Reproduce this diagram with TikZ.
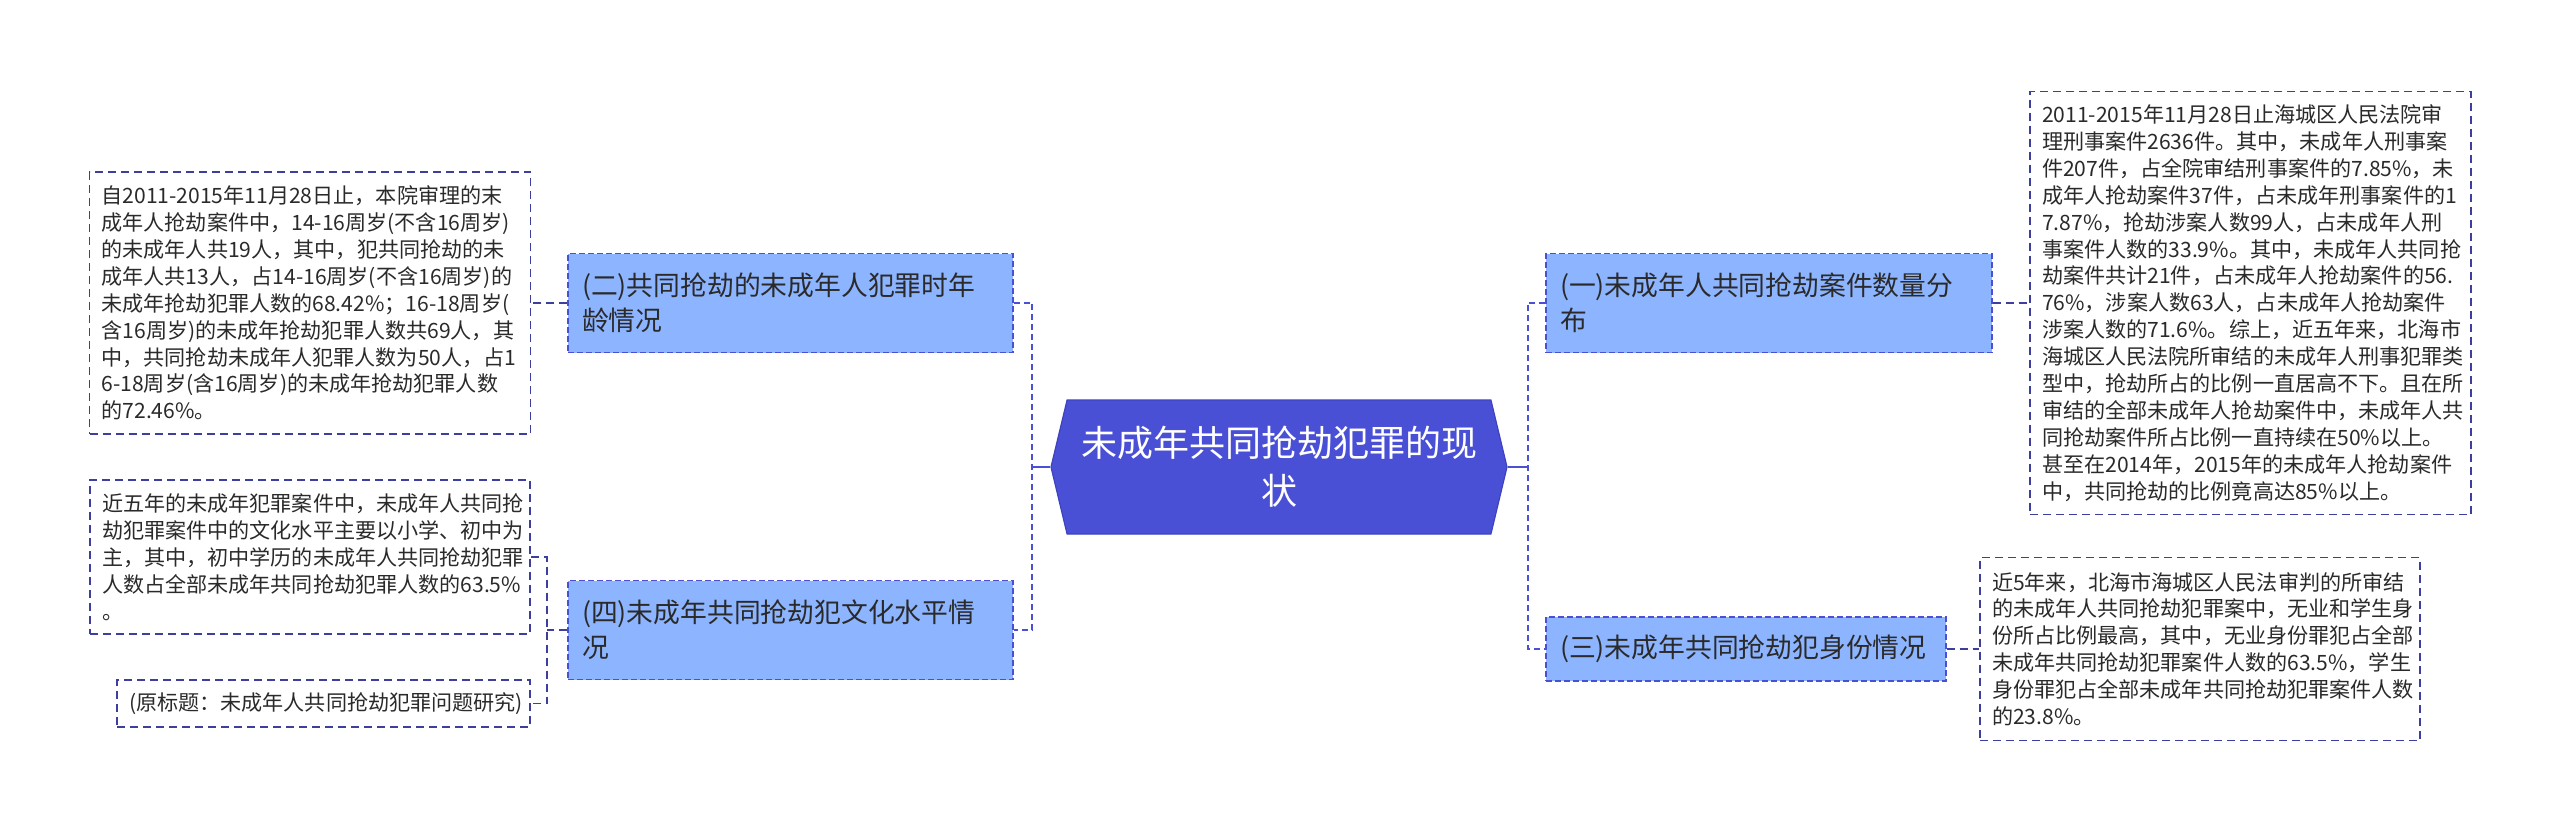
\documentclass[tikz,border=0pt]{standalone}
\usepackage{fontspec}
\setmainfont{Noto Sans CJK SC}
\usetikzlibrary{shapes.symbols}
\definecolor{hubblue}{HTML}{4A50D6}
\definecolor{hubedge}{HTML}{3D43BE}
\definecolor{midfill}{HTML}{8DB4FF}
\definecolor{leafedge}{HTML}{3D3F9C}
\definecolor{inkgray}{HTML}{2A2A2A}

\begin{document}
\begin{tikzpicture}[x=0.5pt, y=-0.5pt,
    hub/.style={shape=signal, signal to=west and east, signal pointer angle=153,
                fill=hubblue, draw=hubedge, line width=0.6pt, text=white,
                minimum width=228pt, minimum height=67pt, align=center,
                font=\fontsize{18pt}{24pt}\selectfont, inner sep=0pt},
    topic/.style={draw=hubblue, fill=midfill, dash pattern=on 3pt off 1.5pt,
                line width=0.7pt, align=left, text=inkgray,
                inner xsep=7pt, inner ysep=0pt,
                font=\fontsize{13.4pt}{17.5pt}\selectfont},
    note/.style={draw=leafedge, fill=white, dash pattern=on 4pt off 2.5pt,
                line width=0.8pt, align=left, text=inkgray,
                inner xsep=6pt, inner ysep=0pt,
                font=\fontsize{10.55pt}{13.45pt}\selectfont},
    link/.style={draw=hubblue, line width=1pt, dash pattern=on 3pt off 2pt},
    twig/.style={draw=leafedge, line width=0.9pt, dash pattern=on 4pt off 2.5pt},
    stem/.style={draw=hubblue, line width=1.2pt}
]
    \fill[white] (0,0) rectangle (2560,831);
    \useasboundingbox (0,0) rectangle (2560,831);

    \node[hub] (ctr) at (1279,467) {未成年共同抢劫犯罪的现\\状};

    \node[topic, text width=208.5pt, minimum height=49.5pt] (n2) at (790.5,303)
        {(二)共同抢劫的未成年人犯罪时年\\龄情况};
    \node[topic, text width=208.5pt, minimum height=49.5pt] (n4) at (790.5,630)
        {(四)未成年共同抢劫犯文化水平情\\况};
    \node[topic, text width=209pt, minimum height=49.5pt] (n1) at (1769,303)
        {(一)未成年人共同抢劫案件数量分\\布};
    \node[topic, text width=186pt, minimum height=32pt] (n3) at (1746,649)
        {(三)未成年共同抢劫犯身份情况};

    \node[note, text width=208.5pt, minimum height=131pt] (l1) at (310,303)
        {自2011-2015年11月28日止，本院审理的末\\
         成年人抢劫案件中，14-16周岁(不含16周岁)\\
         的未成年人共19人，其中，犯共同抢劫的未\\
         成年人共13人，占14-16周岁(不含16周岁)的\\
         未成年抢劫犯罪人数的68.42\%；16-18周岁(\\
         含16周岁)的未成年抢劫犯罪人数共69人，其\\
         中，共同抢劫未成年人犯罪人数为50人，占1\\
         6-18周岁(含16周岁)的未成年抢劫犯罪人数\\
         的72.46\%。};
    \node[note, text width=208pt, minimum height=77pt] (l2) at (310,557)
        {近五年的未成年犯罪案件中，未成年人共同抢\\
         劫犯罪案件中的文化水平主要以小学、初中为\\
         主，其中，初中学历的未成年人共同抢劫犯罪\\
         人数占全部未成年共同抢劫犯罪人数的63.5\%\\
         。};
    \node[note, text width=194.5pt, minimum height=23.5pt] (l3) at (323.5,703.5)
        {(原标题：未成年人共同抢劫犯罪问题研究)};

    \node[note, text width=208.5pt, minimum height=211.5pt] (rA) at (2250.5,303)
        {2011-2015年11月28日止海城区人民法院审\\
         理刑事案件2636件。其中，未成年人刑事案\\
         件207件，占全院审结刑事案件的7.85\%，未\\
         成年人抢劫案件37件，占未成年刑事案件的1\\
         7.87\%，抢劫涉案人数99人，占未成年人刑\\
         事案件人数的33.9\%。其中，未成年人共同抢\\
         劫案件共计21件，占未成年人抢劫案件的56.\\
         76\%，涉案人数63人，占未成年人抢劫案件\\
         涉案人数的71.6\%。综上，近五年来，北海市\\
         海城区人民法院所审结的未成年人刑事犯罪类\\
         型中，抢劫所占的比例一直居高不下。且在所\\
         审结的全部未成年人抢劫案件中，未成年人共\\
         同抢劫案件所占比例一直持续在50\%以上。\\
         甚至在2014年，2015年的未成年人抢劫案件\\
         中，共同抢劫的比例竟高达85\%以上。};
    \node[note, text width=208pt, minimum height=91.5pt] (rB) at (2200,649)
        {近5年来，北海市海城区人民法审判的所审结\\
         的未成年人共同抢劫犯罪案中，无业和学生身\\
         份所占比例最高，其中，无业身份罪犯占全部\\
         未成年共同抢劫犯罪案件人数的63.5\%，学生\\
         身份罪犯占全部未成年共同抢劫犯罪案件人数\\
         的23.8\%。};

    \coordinate (lj) at ([xshift=-9pt]ctr.west);
    \coordinate (rj) at ([xshift=10pt]ctr.east);
    \coordinate (j4) at ([xshift=-10pt]n4.west);

    \draw[stem] (ctr.west) -- (lj);
    \draw[stem] (ctr.east) -- (rj);
    \draw[link] (n2.east) -| (lj) |- (n4.east);
    \draw[link] (n1.west) -| (rj) |- (n3.west);
    \draw[twig] (n2.west) -- (l1.east);
    \draw[twig] (n4.west) -- (j4);
    \draw[twig] (l2.east) -| (j4) |- (l3.east);
    \draw[twig] (n1.east) -- (rA.west);
    \draw[twig] (n3.east) -- (rB.west);
\end{tikzpicture}
\end{document}
